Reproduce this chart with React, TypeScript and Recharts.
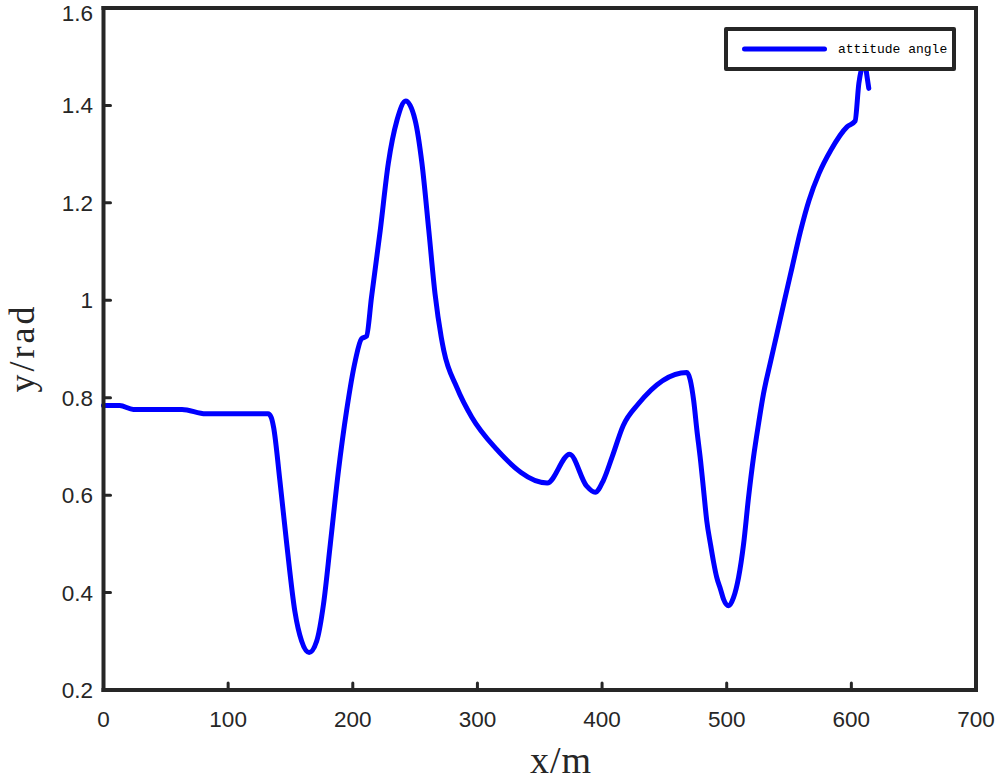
import React from "react";
import { LineChart, Line, XAxis, YAxis, Legend, Label } from "recharts";

// distance along the path (m) and attitude angle (rad)
const DIST = [
  0, 13, 24, 63, 82, 132, 134.5, 136.5, 141.5, 147, 153.5, 159, 165, 171, 176.5, 182, 188.5, 195, 202, 207,
  211, 215, 222, 228.5, 235.5, 242.5, 250, 255.5, 261, 266, 271, 273, 283.5, 295.5, 314, 356, 374, 387.5,
  394.5, 401, 408, 417, 429, 468, 473.5, 476, 479, 481.5, 484, 487, 489.5, 492, 495, 497.5, 501.5, 505.5,
  509.5, 513.5, 517.5, 521.5, 525.5, 529.5, 535, 540, 546, 552.5, 559, 566, 574, 583.5, 596.5, 603, 606,
  608.5, 610.5, 612, 614,
];
const ANGLE = [
  0.784, 0.784, 0.776, 0.776, 0.767, 0.767, 0.76, 0.739, 0.63, 0.5, 0.362, 0.3, 0.277, 0.3, 0.376, 0.5, 0.65,
  0.773, 0.876, 0.921, 0.926, 1.006, 1.143, 1.281, 1.37, 1.409, 1.37, 1.281, 1.143, 1.013, 0.924, 0.897, 0.821,
  0.76, 0.698, 0.625, 0.684, 0.619, 0.606, 0.63, 0.678, 0.743, 0.787, 0.852, 0.794, 0.735, 0.671, 0.609,
  0.547, 0.499, 0.462, 0.431, 0.407, 0.386, 0.373, 0.39, 0.431, 0.499, 0.595, 0.678, 0.746, 0.808, 0.872,
  0.928, 0.996, 1.068, 1.14, 1.205, 1.26, 1.308, 1.356, 1.368, 1.445, 1.48, 1.5, 1.47, 1.435,
];
const X_TICKS = [0, 100, 200, 300, 400, 500, 600, 700];
const Y_TICKS = [0.2, 0.4, 0.6, 0.8, 1, 1.2, 1.4, 1.6];

const data = DIST.map((x, i) => ({ x, angle: ANGLE[i] }));

const AXIS = "#262626";
const BLUE = "#0000ff";
const tickFont = { fontSize: 22.5, fill: AXIS, fontFamily: "'Liberation Sans', Arial, sans-serif" };
const axisLine = { stroke: AXIS, strokeWidth: 4, strokeLinecap: "square" as const };
const tickLine = { stroke: AXIS, strokeWidth: 3, strokeLinecap: "round" as const };
const serif = "'Liberation Serif', 'Times New Roman', serif";

const fmtY = (v: number) => String(Number(v.toFixed(1)));

function LegendBox() {
  return (
    <div
      style={{
        boxSizing: "border-box", width: 232, height: 44, border: `4px solid ${AXIS}`,
        borderRadius: 2, background: "#fff", display: "flex", alignItems: "center",
      }}
    >
      <svg width={110} height={10} style={{ display: "block" }}>
        <line x1={16.5} y1={5} x2={96.5} y2={5} stroke={BLUE} strokeWidth={5} strokeLinecap="round" />
      </svg>
      <span style={{ fontFamily: "'Liberation Mono', 'DejaVu Sans Mono', monospace", fontSize: 13, color: "#000" }}>
        attitude angle
      </span>
    </div>
  );
}

export default function App() {
  return (
    <div style={{ position: "absolute", left: 0, top: 0, width: 1004, height: 781, background: "#fff" }}>
      <LineChart width={1004} height={781} data={data} margin={{ top: 0, right: 0, bottom: 0, left: 0 }}>
        <XAxis
          xAxisId="b" dataKey="x" type="number" domain={[0, 700]} ticks={X_TICKS} height={91}
          tickSize={-7} tickMargin={28.5} tick={tickFont} axisLine={axisLine} tickLine={tickLine}
        >
          <Label
            content={() => (
              <text x={561} y={773} textAnchor="middle" fontFamily={serif} fontSize={38} letterSpacing={1} fill={AXIS}>
                x/m
              </text>
            )}
          />
        </XAxis>
        <XAxis
          xAxisId="t" orientation="top" dataKey="x" type="number" domain={[0, 700]} ticks={X_TICKS} height={8}
          tickSize={-7} tick={false} axisLine={axisLine} tickLine={tickLine}
        />
        <YAxis
          yAxisId="l" type="number" domain={[0.2, 1.6]} ticks={Y_TICKS} width={103.5} tickFormatter={fmtY}
          tickSize={-7} tickMargin={17.5} tick={tickFont} axisLine={axisLine} tickLine={tickLine}
        >
          <Label
            content={() => (
              <text
                x={34} y={348} textAnchor="middle" transform="rotate(-90, 34, 348)"
                fontFamily={serif} fontSize={36} letterSpacing={3} fill={AXIS}
              >
                y/rad
              </text>
            )}
          />
        </YAxis>
        <YAxis
          yAxisId="r" orientation="right" type="number" domain={[0.2, 1.6]} ticks={Y_TICKS} width={28}
          tickSize={-7} tick={false} axisLine={axisLine} tickLine={tickLine}
        />
        <Line
          xAxisId="b" yAxisId="l" dataKey="angle" type="monotone" stroke={BLUE} strokeWidth={5}
          dot={false} isAnimationActive={false} strokeLinejoin="round" strokeLinecap="round"
        />
        <Legend
          layout="horizontal" verticalAlign="middle" align="center" content={LegendBox}
          wrapperStyle={{ left: 724, top: 27, width: 232, height: 44 }}
        />
      </LineChart>
    </div>
  );
}
